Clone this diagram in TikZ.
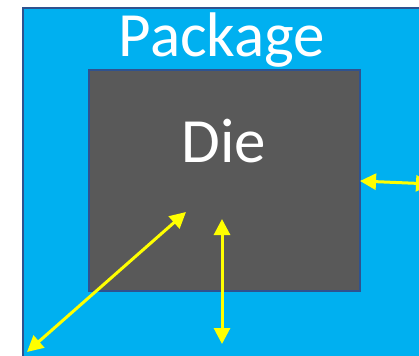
\documentclass[tikz,border=0pt]{standalone}
\usepackage{fontspec}
\setmainfont{Carlito}
\usetikzlibrary{arrows.meta}
\definecolor{pkgblue}{HTML}{00B0F0}
\definecolor{edgeblue}{HTML}{2F528F}
\definecolor{diegray}{HTML}{595959}
\definecolor{arrowyellow}{HTML}{FFFF00}
\begin{document}
\begin{tikzpicture}[x=1pt,y=-1pt,
  box/.style={draw=edgeblue,line width=2pt,inner sep=0pt,outer sep=0pt},
  label/.style={text=white,font=\fontsize{63}{63}\selectfont,inner sep=0pt},
  yarrow/.style={draw=arrowyellow,line width=3pt,
    {Triangle[length=16pt,width=16pt]}-{Triangle[length=16pt,width=16pt]}}]
  \useasboundingbox (0,0) rectangle (419,355);
  \clip (0,0) rectangle (419,355);
  % package body, running past the right and bottom edges
  \node[box,fill=pkgblue,minimum width=420pt,minimum height=370pt,anchor=north west] (pkg) at (23,8) {};
  \node[label,anchor=base] (pkgtext) at (222,57) {Package};
  % die
  \node[box,fill=diegray,minimum width=271pt,minimum height=221pt,anchor=north west] (die) at (89,70) {};
  \node[label,anchor=base] (dietext) at (224,163) {Die};
  % arrow end points
  \coordinate (a1) at (186,212);
  \coordinate (a2) at (27,352);
  \coordinate (b1) at (222,219);
  \coordinate (b2) at (222,344);
  \coordinate (c1) at (360,181);
  \coordinate (c2) at (432,184);
  \draw[yarrow] (a1) -- (a2);
  \draw[yarrow] (b1) -- (b2);
  \draw[yarrow] (c1) -- (c2);
\end{tikzpicture}
\end{document}
